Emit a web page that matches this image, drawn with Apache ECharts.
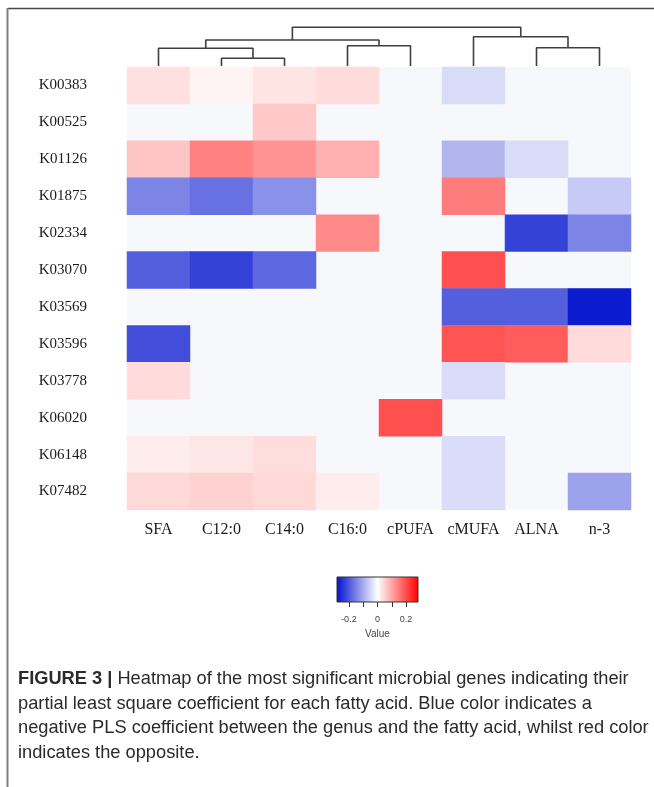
<!DOCTYPE html>
<html><head><meta charset="utf-8">
<script src="https://cdn.jsdelivr.net/npm/echarts@6/dist/echarts.min.js"></script>
<style>html,body{margin:0;padding:0;background:#fff}#c{width:654px;height:787px}</style>
</head><body><div id="c"></div>
<script>
const fattyAcids = ['SFA', 'C12:0', 'C14:0', 'C16:0', 'cPUFA', 'cMUFA', 'ALNA', 'n-3'];
const genes = ['K00383', 'K00525', 'K01126', 'K01875', 'K02334', 'K03070',
               'K03569', 'K03596', 'K03778', 'K06020', 'K06148', 'K07482'];
// PLS coefficients, rows = genes, columns = fatty acids (null = not significant)
const plsCoefficients = [
  [0.034, 0.012, 0.030, 0.040, null, -0.042, null, null],
  [null, null, 0.060, null, null, null, null, null],
  [0.064, 0.140, 0.120, 0.087, null, -0.087, -0.042, null],
  [-0.145, -0.168, -0.130, null, null, 0.145, null, -0.063],
  [null, null, null, 0.130, null, null, -0.224, -0.145],
  [-0.190, -0.225, -0.180, null, null, 0.195, null, null],
  [null, null, null, null, null, -0.190, -0.190, -0.270],
  [-0.210, null, null, null, null, 0.190, 0.180, 0.040],
  [0.040, null, null, null, null, -0.040, null, null],
  [null, null, null, null, 0.195, null, null, null],
  [0.020, 0.028, 0.038, null, null, -0.040, null, null],
  [0.043, 0.050, 0.043, 0.020, null, -0.040, null, -0.110]
];
// dendrogram merges: [left child, right child, merge height, node id]
const dendroMerges = [
  ['C12:0', 'C14:0', 7.7, 'm1'],
  ['SFA', 'm1', 17.7, 'm2'],
  ['C16:0', 'cPUFA', 20.3, 'm3'],
  ['m2', 'm3', 26, 'm4'],
  ['ALNA', 'n-3', 18.3, 'm5'],
  ['cMUFA', 'm5', 29.3, 'm6'],
  ['m4', 'm6', 38.7, 'm7']
];
const legendTicks = [-0.2, -0.1, 0, 0.1, 0.2];
const legendLabels = [-0.2, 0, 0.2];
const colorRange = ['#0010cc', '#ffffff', '#ff0000'];
const valueMin = -0.283, valueMax = 0.283;
const captionLines = [
  '{b|FIGURE 3 |} Heatmap of the most significant microbial genes indicating their',
  'partial least square coefficient for each fatty acid. Blue color indicates a',
  'negative PLS coefficient between the genus and the fatty acid, whilst red color',
  'indicates the opposite.'
];

const heatData = [];
plsCoefficients.forEach((row, r) => row.forEach((v, c) => {
  if (v !== null) heatData.push([c, r, v]);
}));

const nodeX = {}, nodeH = {};
fattyAcids.forEach((f, i) => { nodeX[f] = i; nodeH[f] = 0; });
const dendroSeries = dendroMerges.map(([a, b, h, id]) => {
  nodeX[id] = (nodeX[a] + nodeX[b]) / 2; nodeH[id] = h;
  return {
    type: 'line', xAxisIndex: 1, yAxisIndex: 1, silent: true, symbol: 'none',
    animation: false,
    data: [[nodeX[a], nodeH[a]], [nodeX[a], h], [nodeX[b], h], [nodeX[b], nodeH[b]]],
    lineStyle: { color: '#3e3e3e', width: 1.6 }
  };
});

const serif = '"Liberation Serif", "DejaVu Serif", serif';
const sans = '"Liberation Sans", Arial, sans-serif';

const chart = echarts.init(document.getElementById('c'), null, { renderer: 'canvas' });
chart.setOption({
  backgroundColor: '#ffffff',
  animation: false,
  grid: [
    { left: 127, top: 67, width: 504, height: 443, show: true, backgroundColor: '#f7f8fc', borderWidth: 0 },
    { left: 127, top: 26, width: 504, height: 40 },
    { left: 337, top: 577, width: 81, height: 25, show: true, borderColor: '#333', borderWidth: 1,
      backgroundColor: { type: 'linear', x: 0, y: 0, x2: 1, y2: 0,
        colorStops: [{ offset: 0, color: colorRange[0] }, { offset: 0.5, color: colorRange[1] }, { offset: 1, color: colorRange[2] }] } }
  ],
  xAxis: [
    { type: 'category', gridIndex: 0, data: fattyAcids, position: 'bottom',
      axisLine: { show: false }, axisTick: { show: false }, splitLine: { show: false },
      axisLabel: { interval: 0, fontFamily: serif, fontSize: 16, color: '#1a1a1a', margin: 12 } },
    { type: 'value', gridIndex: 1, min: -0.5, max: 7.5, show: false },
    { type: 'value', gridIndex: 2, min: valueMin, max: valueMax, position: 'bottom',
      axisLine: { show: false }, splitLine: { show: false },
      axisTick: { show: true, customValues: legendTicks, length: 5, lineStyle: { color: '#333' } },
      axisLabel: { customValues: legendLabels, fontFamily: sans, fontSize: 9, color: '#444', margin: 13 },
      name: 'Value', nameLocation: 'middle', nameGap: 27,
      nameTextStyle: { fontFamily: sans, fontSize: 10, color: '#444' } }
  ],
  yAxis: [
    { type: 'category', gridIndex: 0, data: genes, inverse: true,
      axisLine: { show: false }, axisTick: { show: false }, splitLine: { show: false },
      axisLabel: { interval: 0, fontFamily: serif, fontSize: 15, color: '#1a1a1a', margin: 40 } },
    { type: 'value', gridIndex: 1, min: 0, max: 40, show: false },
    { type: 'value', gridIndex: 2, min: 0, max: 1, show: false }
  ],
  visualMap: { show: false, type: 'continuous', min: valueMin, max: valueMax, seriesIndex: 0,
    inRange: { color: colorRange } },
  series: [
    { type: 'heatmap', xAxisIndex: 0, yAxisIndex: 0, data: heatData, silent: true,
      itemStyle: { borderWidth: 0 }, emphasis: { disabled: true } }
  ].concat(dendroSeries),
  graphic: [
    { type: 'line', silent: true, shape: { x1: 8, y1: 8.5, x2: 654, y2: 8.5 }, style: { stroke: '#444', lineWidth: 1.5 } },
    { type: 'line', silent: true, shape: { x1: 7.5, y1: 8, x2: 7.5, y2: 787 }, style: { stroke: '#808080', lineWidth: 2 } }
  ].concat(captionLines.map((t, i) => ({
    type: 'text', silent: true, left: 18, top: 670 + i * 24.5,
    style: { text: t, fontFamily: sans, fontSize: 18.25, fill: '#2b2b2b',
      rich: { b: { fontFamily: sans, fontSize: 18.25, fontWeight: 'bold', fill: '#2b2b2b' } } }
  })))
});
</script></body></html>
